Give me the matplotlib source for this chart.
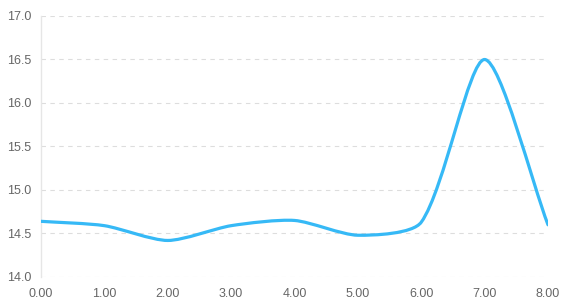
import matplotlib.pyplot as plt
from matplotlib.path import Path
from matplotlib.patches import PathPatch
import numpy as np

plt.rcParams['font.family'] = ['Liberation Sans', 'DejaVu Sans']

x_vals = [0, 1, 2, 3, 4, 5, 6, 7, 8]
y_vals = [14.64, 14.59, 14.42, 14.59, 14.65, 14.48, 14.63, 16.5, 14.6]
x_ticks = [0, 1, 2, 3, 4, 5, 6, 7, 8]
y_ticks = [14.0, 14.5, 15.0, 15.5, 16.0, 16.5, 17.0]

fig = plt.figure(figsize=(5.61, 3.02), dpi=100)
ax = fig.add_axes([41 / 561, 25 / 302, 507 / 561, 261 / 302])
ax.set_xlim(0, 8)
ax.set_ylim(14, 17)

# smooth curve through the points, control points computed in pixel space
pts = ax.transData.transform(np.column_stack([x_vals, y_vals]))
t = 0.25
n = len(pts)
cps = []
for i in range(n):
    p0 = pts[max(i - 1, 0)]
    p1 = pts[i]
    p2 = pts[min(i + 1, n - 1)]
    d01 = np.hypot(*(p1 - p0))
    d12 = np.hypot(*(p2 - p1))
    tot = d01 + d12
    s01 = d01 / tot if tot else 0
    s12 = d12 / tot if tot else 0
    cps.append((p1 - t * s01 * (p2 - p0), p1 + t * s12 * (p2 - p0)))

verts = [pts[0]]
codes = [Path.MOVETO]
for i in range(1, n):
    verts += [cps[i - 1][1], cps[i][0], pts[i]]
    codes += [Path.CURVE4] * 3
verts = ax.transData.inverted().transform(np.array(verts))
ax.add_patch(PathPatch(Path(verts, codes), facecolor='none',
                       edgecolor='#36b9f6', lw=2.3, zorder=3,
                       capstyle='round', joinstyle='round'))

for yv in y_ticks:
    ax.axhline(yv, color='#dddddd', lw=0.8, ls=(0, (4, 4)), zorder=1)

for s in ['top', 'right', 'bottom']:
    ax.spines[s].set_visible(False)
ax.spines['left'].set_color('#e6e6e6')
ax.spines['left'].set_linewidth(1)

ax.set_xticks(x_ticks)
ax.set_xticklabels(['%.2f' % v for v in x_ticks])
ax.set_yticks(y_ticks)
ax.set_yticklabels(['%.1f' % v for v in y_ticks])
ax.tick_params(axis='both', length=0, colors='#666666', labelsize=9)
ax.tick_params(axis='y', pad=7)
ax.tick_params(axis='x', pad=8)

fig.savefig('out.png', dpi=100)
